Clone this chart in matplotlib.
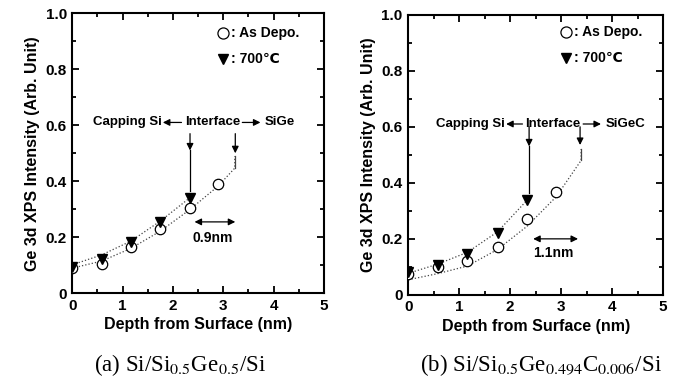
import matplotlib
matplotlib.use('Agg')
import matplotlib.pyplot as plt
from matplotlib.ticker import MultipleLocator

plt.rcParams['font.family'] = ['Liberation Sans', 'DejaVu Sans']
plt.rcParams['mathtext.fontset'] = 'stix'

# data
depth = [0, 0.58, 1.16, 1.75, 2.33, 2.9]

a_asdepo = [0.09, 0.105, 0.165, 0.228, 0.305, 0.39]
a_700 = [0.095, 0.123, 0.183, 0.256, 0.34]
a_fit_lo_x = [0, 0.58, 1.16, 1.75, 2.33, 2.9, 3.23, 3.23]
a_fit_lo_y = [0.09, 0.115, 0.16, 0.222, 0.298, 0.383, 0.447, 0.49]
a_fit_hi_x = [0, 0.58, 1.16, 1.75, 2.33]
a_fit_hi_y = [0.102, 0.137, 0.186, 0.258, 0.34]

b_asdepo = [0.076, 0.1, 0.122, 0.171, 0.271, 0.367]
b_700 = [0.081, 0.105, 0.145, 0.22, 0.338]
b_fit_lo_x = [0, 0.58, 1.16, 1.75, 2.33, 2.9, 3.39, 3.39]
b_fit_lo_y = [0.054, 0.076, 0.103, 0.162, 0.245, 0.35, 0.48, 0.52]
b_fit_hi_x = [0, 0.58, 1.16, 1.75, 2.33]
b_fit_hi_y = [0.077, 0.11, 0.152, 0.225, 0.338]

xticks = [0, 1, 2, 3, 4, 5]
yticks = [0, 0.2, 0.4, 0.6, 0.8, 1.0]
ytick_labels = ['0', '0.2', '0.4', '0.6', '0.8', '1.0']

fig = plt.figure(figsize=(6.76, 3.88), dpi=100)
ax1 = fig.add_axes([0.107, 0.244, 0.372, 0.722])
ax2 = fig.add_axes([0.604, 0.240, 0.377, 0.722])

def setup(ax):
    ax.set_xlim(0, 5)
    ax.set_ylim(0, 1.0)
    ax.set_xticks(xticks)
    ax.set_xticklabels([str(x) for x in xticks], fontweight='bold')
    ax.set_yticks(yticks)
    ax.set_yticklabels(ytick_labels, fontweight='bold')
    ax.xaxis.set_minor_locator(MultipleLocator(0.5))
    ax.yaxis.set_minor_locator(MultipleLocator(0.1))
    ax.tick_params(which='both', direction='in', top=True, right=True, width=1.3)
    ax.tick_params(which='major', length=5, labelsize=11, pad=4)
    ax.tick_params(which='minor', length=3)
    for s in ax.spines.values():
        s.set_linewidth(1.5)
    ax.set_xlabel('Depth from Surface (nm)', fontsize=11.5, fontweight='bold', labelpad=3)
    ax.set_ylabel('Ge 3d XPS Intensity (Arb. Unit)', fontsize=11.5, fontweight='bold', labelpad=4)

def arrow(ax, x0, y0, x1, y1, style='-|>'):
    ax.annotate('', xy=(x1, y1), xytext=(x0, y0),
                arrowprops=dict(arrowstyle=style, color='black', lw=0.9,
                                mutation_scale=10, shrinkA=0, shrinkB=0))

def panel(ax, asdepo, t700, lox, loy, hix, hiy, label_xs, right_word, v1x, v1, v2x, v2,
          dx0, dx1, dy, dlabel, dlx, dly, legx, legy, ty):
    setup(ax)
    ax.plot(lox, loy, ':', color='#444444', lw=0.9)
    ax.plot(hix, hiy, ':', color='#444444', lw=0.9)
    ax.plot([lox[-1], lox[-1]], [loy[-2], loy[-1]], '-', color='#444444', lw=0.9)
    ax.plot(depth, asdepo, 'o', ms=7.5, mfc='white', mec='black', mew=0.9, zorder=3)
    ax.plot(depth[:len(t700)], t700, 'v', ms=6.5, color='black', zorder=4)

    cap_r, a1, a2, int_l, a3, a4, sg_l = label_xs
    kw = dict(fontsize=9.5, fontweight='bold', va='center')
    ax.text(cap_r, ty, 'Capping Si', ha='right', **kw)
    arrow(ax, a2, ty, a1, ty)
    ax.text(int_l, ty, 'Interface', ha='left', **kw)
    arrow(ax, a3, ty, a4, ty)
    ax.text(sg_l, ty, right_word, ha='left', **kw)

    # vertical arrows
    arrow(ax, v1x, v1[0], v1x, v1[1])
    ax.plot([v1x, v1x], [v1[1], v1[2]], '-', color='black', lw=0.9)
    arrow(ax, v2x, v2[0], v2x, v2[1])

    arrow(ax, dx0, dy, dx1, dy, style='<|-|>')
    ax.text(dlx, dly, dlabel, ha='center', va='center', fontsize=10, fontweight='bold')

    ax.plot([legx], [legy[0]], 'o', ms=8, mfc='white', mec='black', mew=0.9)
    ax.plot([legx], [legy[1]], 'v', ms=7, color='black')
    ax.text(legx + 0.15, legy[0], ': As Depo.', ha='left', va='center', fontsize=10, fontweight='bold')
    ax.text(legx + 0.15, legy[1], ': 700\u2103', ha='left', va='center', fontsize=10, fontweight='bold')

panel(ax1, a_asdepo, a_700, a_fit_lo_x, a_fit_lo_y, a_fit_hi_x, a_fit_hi_y,
      (1.78, 1.8, 2.17, 2.24, 3.38, 3.74, 3.83), 'SiGe',
      2.34, (0.57, 0.51, 0.365), 3.24, (0.57, 0.5),
      2.43, 3.24, 0.255, '0.9nm', 2.8, 0.196, 3.0, (0.93, 0.835), 0.61)

panel(ax2, b_asdepo, b_700, b_fit_lo_x, b_fit_lo_y, b_fit_hi_x, b_fit_hi_y,
      (1.9, 1.92, 2.24, 2.3, 3.43, 3.78, 3.88), 'SiGeC',
      2.37, (0.6, 0.53, 0.365), 3.37, (0.6, 0.535),
      2.45, 3.33, 0.2, '1.1nm', 2.84, 0.15, 3.1, (0.94, 0.846), 0.61)

cap = dict(fontsize=16.5, fontfamily='Liberation Serif', fontweight='normal', ha='center', va='center')
fig.text(0.266, 0.06, '(a) Si/Si$_{0.5}$Ge$_{0.5}$/Si', **cap)
fig.text(0.80, 0.06, '(b) Si/Si$_{0.5}$Ge$_{0.494}$C$_{0.006}$/Si', **cap)

fig.savefig('out.png', dpi=100)
